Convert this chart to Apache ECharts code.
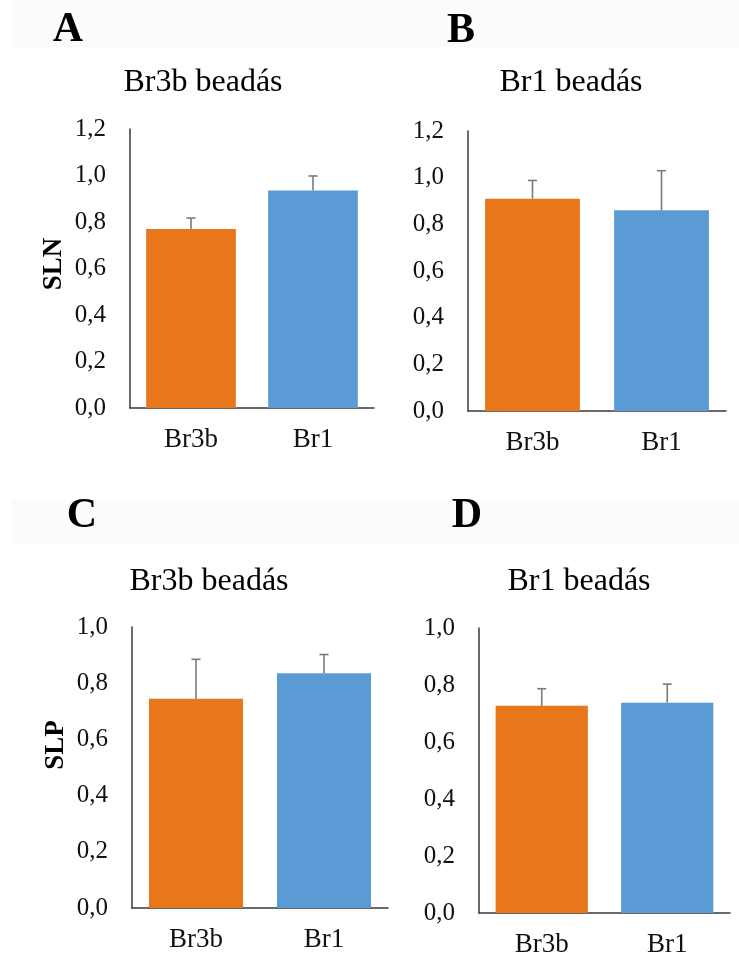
<!DOCTYPE html>
<html>
<head>
<meta charset="utf-8">
<script src="https://cdn.jsdelivr.net/npm/echarts@6/dist/echarts.min.js"></script>
<style>
  html, body { margin: 0; padding: 0; background: #ffffff; }
  #chart { width: 739px; height: 958px; }
  .warm { position: absolute; left: -9999px; top: 0; font-family: 'Liberation Serif'; }
</style>
</head>
<body>
<span class="warm">Br3b beadás 0,8</span><span class="warm" style="font-weight:bold">ABCD SLN SLP</span>
<div id="chart"></div>
<script>
// Categories on every x axis
const categories = ['Br3b', 'Br1'];

// SLN, Br3b administration (panel A)
const slnBr3bMean = [0.77, 0.935];
const slnBr3bErr  = [0.047, 0.063];
// SLN, Br1 administration (panel B)
const slnBr1Mean = [0.91, 0.86];
const slnBr1Err  = [0.078, 0.17];
// SLP, Br3b administration (panel C)
const slpBr3bMean = [0.745, 0.835];
const slpBr3bErr  = [0.14, 0.067];
// SLP, Br1 administration (panel D)
const slpBr1Mean = [0.727, 0.738];
const slpBr1Err  = [0.06, 0.065];

// Y-axis tick labels (Hungarian decimal comma)
const ticksSLN = ['0,0', '0,2', '0,4', '0,6', '0,8', '1,0', '1,2'];
const ticksSLP = ['0,0', '0,2', '0,4', '0,6', '0,8', '1,0'];

const panelLetters = ['A', 'B', 'C', 'D'];
const panelTitles = ['Br3b beadás', 'Br1 beadás', 'Br3b beadás', 'Br1 beadás'];
const axisNames = ['SLN', 'SLP'];

const barColors = ['#E8761B', '#5B9BD5'];
const serif = 'Liberation Serif';

const panels = [
  { mean: slnBr3bMean, err: slnBr3bErr, ticks: ticksSLN, grid: { left: 130, top: 129, width: 244, height: 279 } },
  { mean: slnBr1Mean,  err: slnBr1Err,  ticks: ticksSLN, grid: { left: 468, top: 131, width: 258, height: 280 } },
  { mean: slpBr3bMean, err: slpBr3bErr, ticks: ticksSLP, grid: { left: 132, top: 627, width: 256, height: 281 } },
  { mean: slpBr1Mean,  err: slpBr1Err,  ticks: ticksSLP, grid: { left: 479, top: 628, width: 251, height: 285 } }
];

function draw() {
  const axisLine = { show: true, lineStyle: { color: '#3a3a3a', width: 1.5 } };
  const grids = [], xAxes = [], yAxes = [], series = [];
  panels.forEach(function (p, i) {
    grids.push(Object.assign({ containLabel: false }, p.grid));
    xAxes.push({
      type: 'category', gridIndex: i, data: categories,
      axisLine: axisLine, axisTick: { show: false },
      axisLabel: { margin: 18, fontFamily: serif, fontSize: 27, color: '#111' }
    });
    const maxVal = (p.ticks.length - 1) * 0.2;
    yAxes.push({
      type: 'value', gridIndex: i, min: 0, max: +maxVal.toFixed(1), interval: 0.2,
      axisLine: axisLine, axisTick: { show: false }, splitLine: { show: false },
      axisLabel: {
        margin: 24, fontFamily: serif, fontSize: 25, color: '#111',
        formatter: (function (ticks) {
          return function (v) { return ticks[Math.round(v / 0.2)]; };
        })(p.ticks)
      }
    });
    series.push({
      type: 'bar', xAxisIndex: i, yAxisIndex: i, barCategoryGap: '26.5%',
      data: p.mean.map(function (v, k) { return { value: v, itemStyle: { color: barColors[k] } }; }),
      silent: true
    });
    series.push({
      type: 'custom', xAxisIndex: i, yAxisIndex: i, z: 5, silent: true,
      encode: { x: 0, y: 1 },
      data: p.mean.map(function (v, k) { return [k, v, p.err[k]]; }),
      renderItem: function (params, api) {
        const idx = api.value(0), v = api.value(1), e = api.value(2);
        const base = api.coord([idx, v]);
        const top = api.coord([idx, v + e]);
        const style = { stroke: '#7a7a7a', lineWidth: 1.6 };
        return {
          type: 'group',
          children: [
            { type: 'line', shape: { x1: base[0], y1: base[1], x2: top[0], y2: top[1] }, style: style },
            { type: 'line', shape: { x1: top[0] - 4.5, y1: top[1], x2: top[0] + 4.5, y2: top[1] }, style: style }
          ]
        };
      }
    });
  });

  // Panel letters, panel titles and rotated y-axis names
  const letterPos = [[68, 30], [461, 31], [82, 516], [467, 516]];
  const titlePos = [[203, 83], [571, 83], [209, 582], [579, 582]];
  const graphics = [
    { type: 'rect', shape: { x: 12, y: 0, width: 727, height: 47 }, style: { fill: '#fcfbfa' }, z: -10 },
    { type: 'rect', shape: { x: 12, y: 500, width: 727, height: 45 }, style: { fill: '#fcfbfa' }, z: -10 }
  ];
  panelLetters.forEach(function (t, i) {
    graphics.push({
      type: 'text', x: letterPos[i][0], y: letterPos[i][1],
      style: { text: t, align: 'center', verticalAlign: 'middle', fontFamily: serif, fontWeight: 'bold', fontSize: 42, fill: '#000' }
    });
  });
  panelTitles.forEach(function (t, i) {
    graphics.push({
      type: 'text', x: titlePos[i][0], y: titlePos[i][1],
      style: { text: t, align: 'center', verticalAlign: 'middle', fontFamily: serif, fontSize: 32, fill: '#000' }
    });
  });
  const namePos = [[54, 264], [56, 745]];
  axisNames.forEach(function (t, i) {
    graphics.push({
      type: 'text', x: namePos[i][0], y: namePos[i][1], rotation: Math.PI / 2,
      style: { text: t, align: 'center', verticalAlign: 'middle', fontFamily: serif, fontWeight: 'bold', fontSize: 27, fill: '#000' }
    });
  });

  const chart = echarts.init(document.getElementById('chart'), null, { renderer: 'canvas' });
  chart.setOption({
    backgroundColor: '#ffffff',
    animation: false,
    grid: grids,
    xAxis: xAxes,
    yAxis: yAxes,
    series: series,
    graphic: graphics
  });
}

// Render once the serif faces are ready so canvas text uses them
if (document.fonts && document.fonts.load) {
  Promise.all([
    document.fonts.load("25px 'Liberation Serif'"),
    document.fonts.load("bold 42px 'Liberation Serif'")
  ]).then(draw, draw);
} else {
  draw();
}
</script>
</body>
</html>
